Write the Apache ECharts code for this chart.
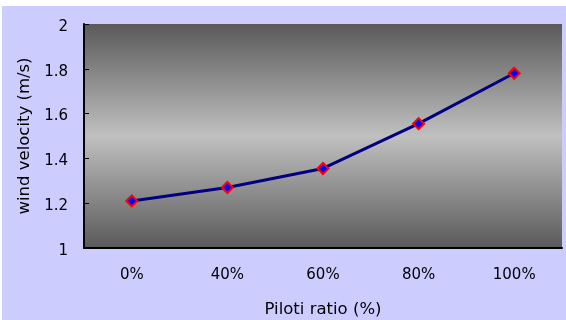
<!DOCTYPE html>
<html>
<head>
<meta charset="utf-8">
<script src="https://cdn.jsdelivr.net/npm/echarts@6/dist/echarts.min.js"></script>
<style>
  html, body { margin: 0; padding: 0; background: #ffffff; }
  #chart { width: 566px; height: 320px; }
</style>
</head>
<body>
<div id="chart"></div>
<script>
// Piloti ratio categories and measured wind velocity (m/s)
var categories = ['0%', '40%', '60%', '80%', '100%'];
var windVelocity = [1.21, 1.27, 1.355, 1.555, 1.78];
var yTicks = [1, 1.2, 1.4, 1.6, 1.8, 2];

var FONT = 'DejaVu Sans';
var chart = echarts.init(document.getElementById('chart'), null, { renderer: 'canvas' });

chart.setOption({
  backgroundColor: '#ffffff',
  animation: false,
  graphic: [{
    type: 'rect',
    z: -10,
    silent: true,
    shape: { x: 2, y: 6, width: 564, height: 314 },
    style: { fill: '#ccccff' }
  }],
  grid: {
    left: 84, top: 24, right: 4, bottom: 72,
    outerBoundsMode: 'none',
    containLabel: false,
    show: true,
    borderWidth: 0,
    backgroundColor: new echarts.graphic.LinearGradient(0, 0, 0, 1, [
      { offset: 0, color: '#5a5a5a' },
      { offset: 0.5, color: '#c0c0c0' },
      { offset: 1, color: '#5a5a5a' }
    ])
  },
  xAxis: {
    type: 'category',
    data: categories,
    boundaryGap: true,
    name: 'Piloti ratio (%)',
    nameLocation: 'middle',
    nameGap: 53,
    nameTextStyle: { fontFamily: FONT, fontSize: 16.5, color: '#000' },
    axisLine: { lineStyle: { color: '#000', width: 2 } },
    axisTick: { inside: true, length: 5, lineStyle: { color: '#000', width: 1 } },
    axisLabel: { fontFamily: FONT, fontSize: 15, color: '#000', margin: 20 },
    splitLine: { show: false }
  },
  yAxis: {
    type: 'value',
    min: yTicks[0],
    max: yTicks[yTicks.length - 1],
    interval: 0.2,
    name: 'wind velocity (m/s)',
    nameLocation: 'middle',
    nameGap: 42,
    nameTextStyle: { fontFamily: FONT, fontSize: 16.5, color: '#000' },
    axisLine: { show: true, lineStyle: { color: '#000', width: 2 } },
    axisTick: { show: true, inside: true, length: 5, lineStyle: { color: '#000', width: 1 } },
    axisLabel: {
      fontFamily: FONT, fontSize: 15, color: '#000', margin: 16,
      verticalAlign: 'top', lineHeight: 6,
      formatter: function (v) { return String(Math.round(v * 10) / 10); }
    },
    splitLine: { show: false }
  },
  series: [{
    type: 'line',
    data: windVelocity,
    lineStyle: { color: '#000080', width: 3 },
    symbol: 'diamond',
    symbolSize: 11,
    itemStyle: { color: '#0000ff', borderColor: '#ff0000', borderWidth: 2 }
  }]
});
</script>
</body>
</html>
